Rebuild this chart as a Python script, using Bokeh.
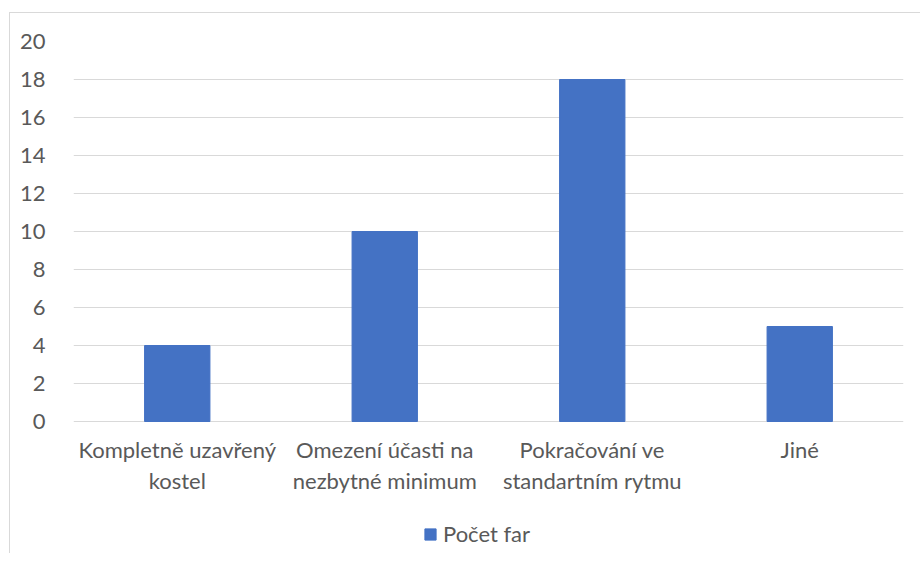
from bokeh.plotting import figure
from bokeh.models import ColumnDataSource, Legend, LegendItem, FixedTicker, FactorRange, Range1d
from bokeh.embed import file_html
from bokeh.resources import INLINE

categories = ["Kompletně uzavřený\nkostel", "Omezení účasti na\nnezbytné minimum",
              "Pokračování ve\nstandartním rytmu", "Jiné"]
values = [4, 10, 18, 5]
series_name = "Počet far"
y_ticks = [0, 2, 4, 6, 8, 10, 12, 14, 16, 18, 20]

FONT = "Lato"
GRAY = "#595959"

# pixel layout: 19 px per unit, 132 px below zero reserved for labels + legend
PX_PER_UNIT = 19
BELOW_PX = 132
y_start = -BELOW_PX / PX_PER_UNIT
y_end = max(y_ticks)

src = ColumnDataSource(dict(cat=categories, val=values))

p = figure(x_range=FactorRange(*categories), y_range=Range1d(y_start, y_end),
           width=910, height=540, frame_width=830,
           frame_height=int(PX_PER_UNIT * y_end + BELOW_PX),
           min_border_left=63, min_border_top=28, min_border_right=17, min_border_bottom=0,
           output_backend="svg", toolbar_location=None,
           background_fill_color="white", border_fill_color="white",
           outline_line_color=None)
p.styles = {"border-left": "1px solid #d9d9d9", "border-top": "1px solid #d9d9d9",
            "margin-left": "9px", "margin-top": "12px"}

r = p.vbar(x="cat", top="val", width=0.315, source=src, color="#4472C4")

p.yaxis.ticker = FixedTicker(ticks=y_ticks)
for ax in (p.xaxis, p.yaxis):
    ax.axis_line_color = None
    ax.major_tick_line_color = None
    ax.minor_tick_line_color = None
    ax.major_label_text_color = GRAY
    ax.major_label_text_font = FONT
    ax.major_label_text_font_size = "22px"
p.yaxis.major_label_standoff = 22
p.xaxis.fixed_location = 0
p.xaxis.major_label_standoff = 8
p.xaxis.major_label_text_line_height = 1.17

p.xgrid.grid_line_color = None
p.ygrid.grid_line_color = "#d9d9d9"
p.ygrid.grid_line_width = 1

legend = Legend(items=[LegendItem(label=series_name, renderers=[r])],
                orientation="horizontal", location=(350, 6),
                glyph_width=14, glyph_height=14, label_standoff=6,
                label_text_font=FONT, label_text_font_size="22px", label_text_color=GRAY,
                border_line_color=None, background_fill_alpha=0, padding=0, margin=0)
p.add_layout(legend, "center")

open("out.html", "w").write(file_html(p, INLINE))
